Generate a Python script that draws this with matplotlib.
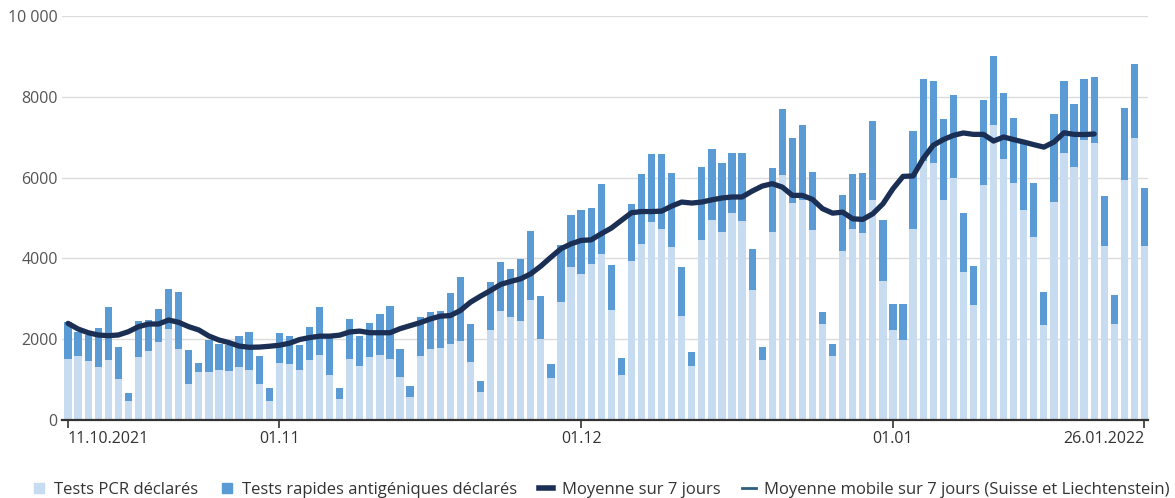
import numpy as np
import pandas as pd
import matplotlib
matplotlib.use("Agg")
import matplotlib.pyplot as plt
import matplotlib.dates as mdates
from matplotlib.lines import Line2D

plt.rcParams['font.family'] = ['Open Sans', 'DejaVu Sans']

# Daily values 11.10.2021 - 26.01.2022
start_date = '2021-10-11'
end_date = '2022-01-26'

pcr = [1510, 1580, 1460, 1305, 1485, 1005, 480, 1550, 1710, 1930,
       2245, 1755, 890, 1190, 1180, 1250, 1225, 1305, 1230, 880,
       470, 1400, 1375, 1230, 1480, 1600, 1125, 530, 1500, 1330,
       1560, 1600, 1512, 1057, 578, 1594, 1759, 1784, 1883, 1966,
       1429, 686, 2230, 2693, 2561, 2461, 2974, 2007, 1033, 2916,
       3783, 3618, 3866, 4097, 2726, 1115, 3948, 4361, 4898, 4733,
       4279, 2585, 1346, 4460, 4939, 4650, 5129, 4923, 3221, 1495,
       4650, 6055, 5369, 5452, 4692, 2379, 1578, 4180, 4725, 4626,
       5452, 3436, 2239, 1991, 4717, 6400, 6370, 5435, 5997, 3659,
       2858, 5807, 7310, 6450, 5860, 5195, 4535, 2355, 5405, 6617,
       6272, 6930, 6864, 4310, 2376, 5938, 6988, 4310]

antigen = [920, 610, 640, 980, 1315, 810, 180, 910, 765, 825,
           995, 1415, 845, 210, 810, 630, 620, 770, 950, 700,
           330, 760, 700, 635, 820, 1195, 925, 270, 995, 750,
           840, 1030, 1305, 700, 273, 967, 909, 925, 1256, 1569,
           950, 289, 1198, 1206, 1181, 1529, 1693, 1074, 355, 1404,
           1297, 1586, 1387, 1751, 1115, 413, 1388, 1718, 1677, 1842,
           1833, 1198, 331, 1801, 1776, 1718, 1487, 1693, 1016, 305,
           1586, 1652, 1611, 1842, 1445, 289, 305, 1396, 1371, 1495,
           1941, 1504, 636, 884, 2428, 2050, 2030, 2007, 2040, 1470,
           950, 2106, 1700, 1652, 1610, 1700, 1339, 815, 2168, 1782,
           1541, 1515, 1630, 1240, 720, 1775, 1825, 1440]

avg7 = [2392, 2252, 2161, 2104, 2087, 2104, 2186, 2310, 2376, 2376,
        2475, 2417, 2310, 2228, 2079, 1980, 1915, 1830, 1800, 1805,
        1825, 1850, 1900, 1990, 2040, 2075, 2075, 2100, 2180, 2200,
        2160, 2160, 2160, 2260, 2335, 2410, 2500, 2570, 2585, 2710,
        2915, 3065, 3205, 3355, 3430, 3495, 3620, 3810, 4030, 4240,
        4360, 4445, 4460, 4610, 4750, 4940, 5130, 5160, 5160, 5170,
        5295, 5395, 5370, 5395, 5450, 5495, 5520, 5520, 5665, 5790,
        5850, 5765, 5560, 5560, 5460, 5230, 5120, 5145, 4980, 4965,
        5105, 5350, 5725, 6030, 6040, 6470, 6800, 6940, 7045, 7105,
        7070, 7070, 6905, 7005, 6940, 6880, 6815, 6755, 6880, 7110,
        7070, 7065, 7080]

tick_dates = ['2021-10-11', '2021-11-01', '2021-12-01', '2022-01-01', '2022-01-26']
tick_labels = ['11.10.2021', '01.11', '01.12', '01.01', '26.01.2022']
y_ticks = [0, 2000, 4000, 6000, 8000, 10000]
y_labels = ['0', '2000', '4000', '6000', '8000', '10 000']

legend_labels = ['Tests PCR déclarés', 'Tests rapides antigéniques déclarés',
                 'Moyenne sur 7 jours',
                 'Moyenne mobile sur 7 jours (Suisse et Liechtenstein)']

c_pcr = '#c7dcf1'
c_ag = '#5b9bd5'
c_avg = '#1b2f55'
c_mob = '#2e5f80'

dates = pd.date_range(start_date, end_date, freq='D')
x = mdates.date2num(dates)

fig = plt.figure(figsize=(11.75, 4.98), dpi=100)
ax = fig.add_axes([62 / 1175, 78 / 498, (1148 - 62) / 1175, (420 - 16) / 498])

ax.bar(x, pcr, width=0.72, color=c_pcr, zorder=2)
ax.bar(x, antigen, width=0.72, bottom=pcr, color=c_ag, zorder=2)
ax.plot(x[:len(avg7)], avg7, color=c_avg, linewidth=3.8,
        solid_capstyle='round', solid_joinstyle='round', zorder=3)

ax.set_xlim(x[0] - 0.6, x[-1] + 0.35)
ax.set_ylim(0, 10000)

ax.set_yticks(y_ticks)
ax.set_yticklabels(y_labels)
ax.tick_params(axis='y', length=0, labelsize=11.5, labelcolor='#555555', pad=3)
ax.yaxis.grid(True, color='#dcdcdc', linewidth=1)
ax.set_axisbelow(True)

ax.set_xticks(mdates.date2num(pd.to_datetime(tick_dates)))
ax.set_xticklabels(tick_labels)
ax.tick_params(axis='x', length=6, width=1.2, color='#333333',
               labelsize=11.5, labelcolor='#333333', pad=2)
xt = ax.get_xticklabels()
xt[0].set_ha('left')
xt[-1].set_ha('right')

for s in ['top', 'right', 'left']:
    ax.spines[s].set_visible(False)
ax.spines['bottom'].set_color('#333333')
ax.spines['bottom'].set_linewidth(1.6)

handles = [
    Line2D([], [], marker='s', linestyle='none', markersize=7, color=c_pcr),
    Line2D([], [], marker='s', linestyle='none', markersize=7, color=c_ag),
    Line2D([], [], color=c_avg, linewidth=4),
    Line2D([], [], color=c_mob, linewidth=2),
]
fig.legend(handles, legend_labels, loc='lower left', bbox_to_anchor=(0.014, -0.03),
           ncol=4, frameon=False, fontsize=12, handlelength=0.85,
           handletextpad=0.5, columnspacing=1.3, labelcolor='#333333')

fig.savefig('out.png', dpi=100)
